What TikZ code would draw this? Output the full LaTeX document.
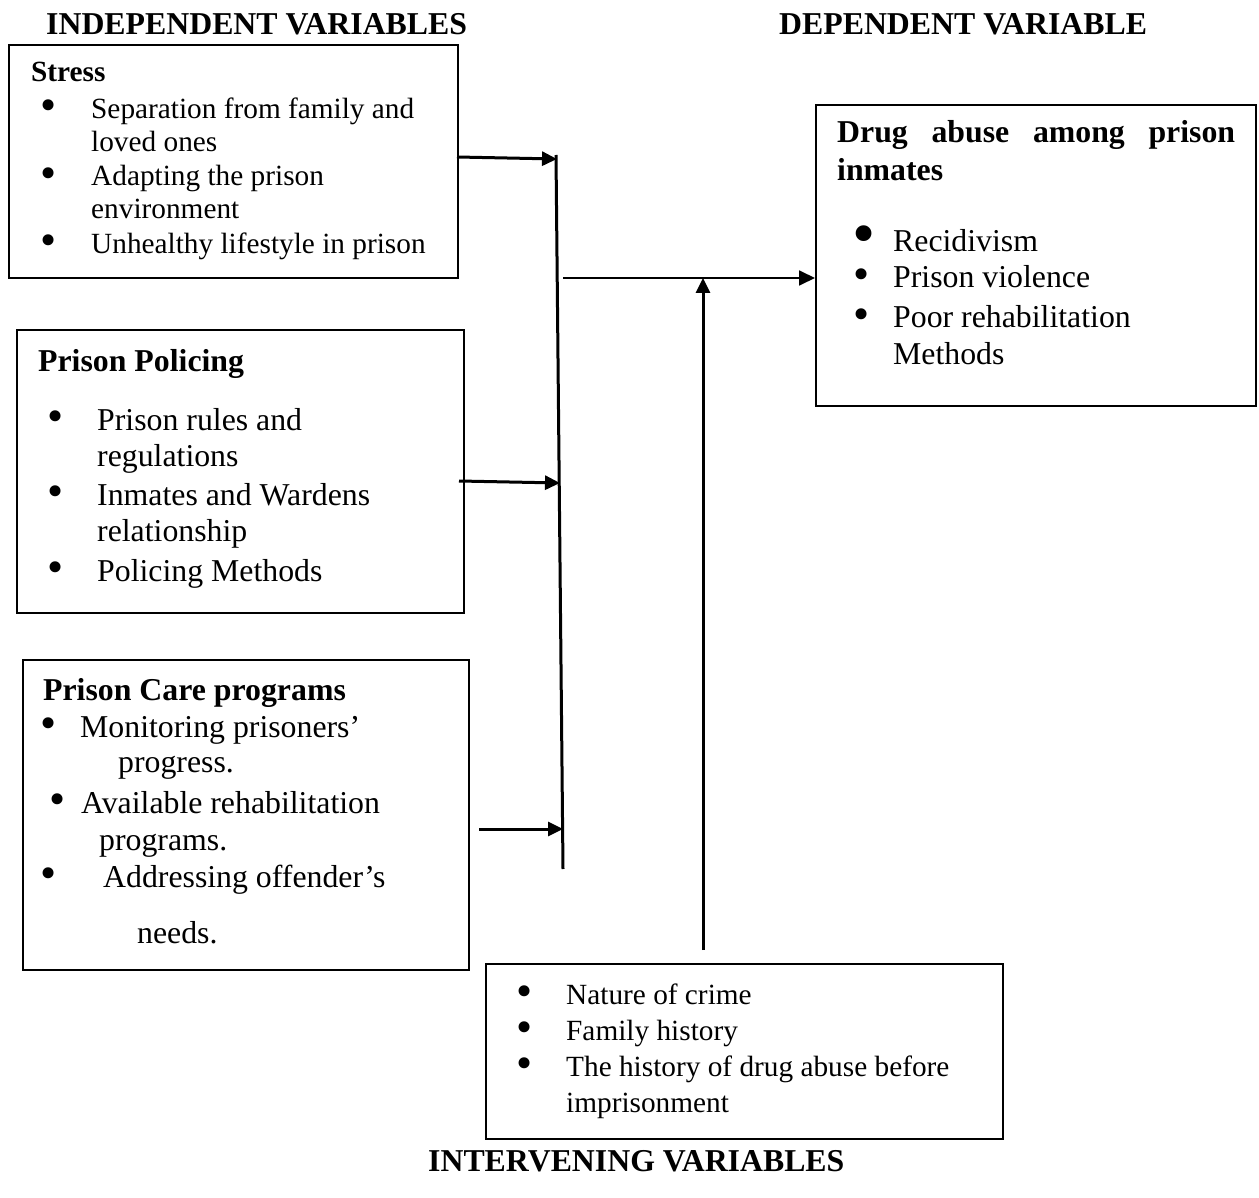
\documentclass[tikz,border=0pt]{standalone}
\usepackage{fontspec}
\setmainfont{Liberation Serif}
\usetikzlibrary{arrows.meta,calc}
\newcommand{\fS}{\fontsize{29.3}{34}\selectfont}
\newcommand{\fL}{\fontsize{31.8}{37}\selectfont}
\begin{document}
\begin{tikzpicture}[x=1pt,y=-1pt,
  frame/.style={draw, line width=2pt, anchor=north west, inner sep=0pt},
  txtS/.style={anchor=base west, inner sep=0pt, font=\fS},
  txtL/.style={anchor=base west, inner sep=0pt, font=\fL},
  hdS/.style={anchor=base west, inner sep=0pt, font=\fS\bfseries},
  hdL/.style={anchor=base west, inner sep=0pt, font=\fL\bfseries},
  bul/.style={inner sep=0pt, font=\fontsize{46}{46}\selectfont},
  bigbul/.style={inner sep=0pt, font=\fontsize{66}{66}\selectfont},
  arr/.style={line width=3pt, -{Triangle[length=15pt,width=14pt]}},
  thinarr/.style={line width=1.8pt, -{Triangle[length=16pt,width=15pt]}},
  vline/.style={line width=3pt}]
\useasboundingbox (0,0) rectangle (1259,1198);

% titles
\node[hdL] (tind) at (46,35) {INDEPENDENT VARIABLES};
\node[hdL] (tdep) at (779,35) {DEPENDENT VARIABLE};
\node[hdL] (tint) at (428,1171) {INTERVENING VARIABLES};

% boxes
\node[frame, minimum width=449pt, minimum height=233pt] (stress) at (8,44) {};
\node[frame, minimum width=447pt, minimum height=283pt] (police) at (16,329) {};
\node[frame, minimum width=446pt, minimum height=310pt] (care) at (22,659) {};
\node[frame, minimum width=517pt, minimum height=175pt] (interv) at (485,963) {};
\node[frame, minimum width=440pt, minimum height=301pt] (drug) at (815,104) {};

% stress box text
\node[hdS] (s0) at (31,82) {Stress};
\node[bul] (sb1) at (49,110) {•};
\node[txtS] (s1) at (91,119) {Separation from family and};
\node[txtS] (s2) at (91,152) {loved ones};
\node[bul] (sb2) at (49,178) {•};
\node[txtS] (s3) at (91,186) {Adapting the prison};
\node[txtS] (s4) at (91,219) {environment};
\node[bul] (sb3) at (49,245) {•};
\node[txtS] (s5) at (91,254) {Unhealthy lifestyle in prison};

% prison policing text
\node[hdL] (p0) at (38,372) {Prison Policing};
\node[bul] (pb1) at (56,421) {•};
\node[txtL] (p1) at (97,430) {Prison rules and};
\node[txtL] (p2) at (97,466) {regulations};
\node[bul] (pb2) at (56,496) {•};
\node[txtL] (p3) at (97,505) {Inmates and Wardens};
\node[txtL] (p4) at (97,541) {relationship};
\node[bul] (pb3) at (56,572) {•};
\node[txtL] (p5) at (97,581) {Policing Methods};

% prison care text
\node[hdL] (c0) at (43,700) {Prison Care programs};
\node[bul] (cb1) at (49,728) {•};
\node[txtL] (c1) at (80,737) {Monitoring prisoners’};
\node[txtL] (c2) at (118,772) {progress.};
\node[bul] (cb2) at (58,804) {•};
\node[txtL] (c3) at (81,813) {Available rehabilitation};
\node[txtL] (c4) at (99,850) {programs.};
\node[bul] (cb3) at (49,878) {•};
\node[txtL] (c5) at (103,887) {Addressing offender’s};
\node[txtL] (c6) at (137,943) {needs.};

% drug abuse text
\node[hdL] (d0) at (837,143) {\makebox[398pt][l]{Drug\hfill abuse\hfill among\hfill prison}};
\node[hdL] (d1) at (837,181) {inmates};
\node[bigbul] (db1) at (864,241) {•};
\node[txtL] (d2) at (893,252) {Recidivism};
\node[bul] (db2) at (862,279) {•};
\node[txtL] (d3) at (893,288) {Prison violence};
\node[bul] (db3) at (862,319) {•};
\node[txtL] (d4) at (893,328) {Poor rehabilitation};
\node[txtL] (d5) at (893,365) {Methods};

% intervening text
\node[bul] (ib1) at (525,996) {•};
\node[txtS] (i1) at (566,1004) {Nature of crime};
\node[bul] (ib2) at (525,1032) {•};
\node[txtS] (i2) at (566,1040) {Family history};
\node[bul] (ib3) at (525,1068) {•};
\node[txtS] (i3) at (566,1076) {The history of drug abuse before};
\node[txtS] (i4) at (566,1112) {imprisonment};

% connectors
\coordinate (vtop) at (556,155);
\coordinate (vbot) at (563,869);
\draw[vline] (vtop) -- (vbot);

\coordinate (a1s) at (457,157);
\coordinate (a1e) at (557,159);
\draw[arr] (a1s) -- (a1e);

\coordinate (a2s) at (459,481);
\coordinate (a2e) at (560,483);
\draw[arr] (a2s) -- (a2e);

\coordinate (a3s) at (479,829);
\coordinate (a3e) at (563,829);
\draw[arr] (a3s) -- (a3e);

\coordinate (hs) at (563,278);
\draw[thinarr] (hs) -- (drug.west |- hs);

\coordinate (vs) at (703,950);
\coordinate (ve) at (703,278);
\draw[arr] (vs) -- (ve);
\end{tikzpicture}
\end{document}
